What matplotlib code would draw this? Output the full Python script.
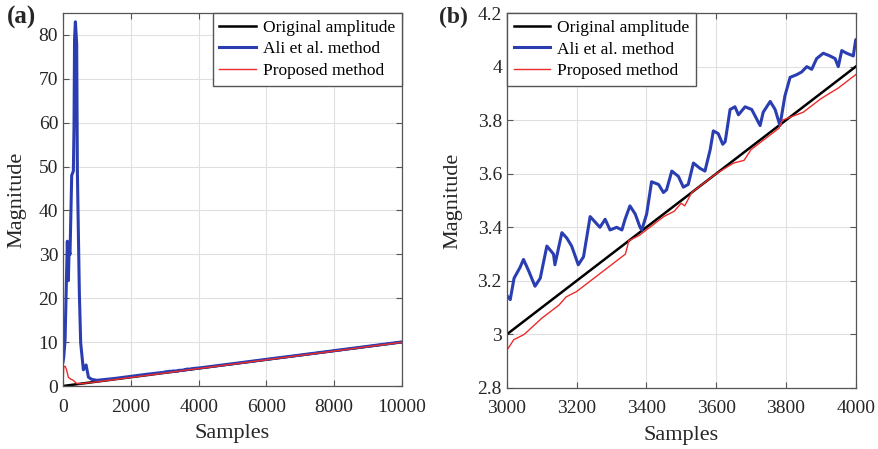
# -*- coding=utf-8 -*-
import numpy as np
import matplotlib.pyplot as plt
from matplotlib.ticker import FormatStrFormatter

"""
幅值估计对比：原始幅值 / Ali et al. 方法 / 所提方法
(a) 全程 0~10000 样本, (b) 3000~4000 局部放大
"""

plt.rcParams['font.family'] = ['Liberation Serif', 'DejaVu Serif']

# 原始幅值 (线性增长)
orig_x = [0, 10000]
orig_y = [0, 10]

# Ali et al. 方法
ali_x = [0, 20, 60, 100, 127, 157, 180, 206, 256, 305, 324, 340, 364, 403, 423,
         482, 521, 600, 680, 750, 850, 1000, 1500, 2000, 2500,
         3000, 3010, 3021, 3038, 3048, 3062, 3081, 3096, 3115, 3134, 3138, 3158,
         3172, 3186, 3205, 3220, 3239, 3253, 3267, 3282, 3296, 3315, 3330, 3339,
         3353, 3368, 3382, 3387, 3401, 3415, 3435, 3449, 3458, 3473, 3492, 3506,
         3520, 3535, 3554, 3568, 3583, 3592, 3606, 3619, 3626, 3640, 3654, 3664,
         3683, 3702, 3726, 3735, 3755, 3769, 3783, 3797, 3812, 3831, 3845, 3860,
         3874, 3888, 3907, 3926, 3941, 3950, 3960, 3974, 3993, 4000,
         5000, 6000, 7000, 8000, 9000, 10000]
ali_y = [5.5, 6.5, 10.5, 24, 33, 24, 31, 30, 48, 49, 59, 79, 83, 78, 49,
         21, 9.8, 3.7, 4.8, 2.0, 1.5, 1.3, 1.7, 2.2, 2.7,
         3.146, 3.13, 3.21, 3.25, 3.28, 3.24, 3.18, 3.21, 3.33, 3.30, 3.26, 3.38,
         3.36, 3.33, 3.26, 3.29, 3.44, 3.42, 3.40, 3.43, 3.39, 3.40, 3.39, 3.43,
         3.48, 3.45, 3.40, 3.39, 3.45, 3.57, 3.56, 3.53, 3.54, 3.61, 3.59, 3.55,
         3.56, 3.64, 3.62, 3.61, 3.69, 3.76, 3.75, 3.71, 3.72, 3.84, 3.85, 3.82,
         3.85, 3.84, 3.78, 3.83, 3.87, 3.84, 3.78, 3.89, 3.96, 3.97, 3.98, 4.00,
         3.99, 4.03, 4.05, 4.04, 4.03, 4.00, 4.06, 4.05, 4.04, 4.10,
         5.08, 6.08, 7.06, 8.06, 9.05, 10.05]

# 所提方法
prop_x = [0, 20, 60, 100, 157, 220, 300, 400, 500, 1000, 2000,
          3000, 3010, 3020, 3050, 3100, 3150, 3170, 3200, 3250, 3300, 3340, 3350,
          3380, 3400, 3450, 3480, 3500, 3510, 3530, 3600, 3650, 3680, 3700, 3750,
          3780, 3790, 3850, 3900, 3950, 4000,
          5000, 6000, 7000, 8000, 9000, 10000]
prop_y = [0, 4.4, 4.5, 3.8, 2.0, 1.6, 1.3, 0.6, 0.5, 0.95, 1.95,
          2.94, 2.96, 2.98, 3.00, 3.06, 3.11, 3.14, 3.16, 3.21, 3.26, 3.30, 3.35,
          3.37, 3.39, 3.44, 3.46, 3.49, 3.48, 3.53, 3.60, 3.64, 3.65, 3.69, 3.74,
          3.77, 3.80, 3.83, 3.88, 3.92, 3.97,
          4.97, 5.97, 6.97, 7.97, 8.97, 9.97]

labels = ['Original amplitude', 'Ali et al. method', 'Proposed method']
blue = '#2a3eb1'
red = '#ee2b2b'
axis_color = '#555555'
text_color = '#262626'

fig = plt.figure(figsize=(8.79, 4.49), dpi=100)
ax1 = fig.add_axes([0.0717, 0.1403, 0.3857, 0.8307])
ax2 = fig.add_axes([0.5765, 0.1359, 0.397, 0.835])


def draw(ax):
    ax.plot(orig_x, orig_y, color='black', lw=1.8, label=labels[0])
    ax.plot(ali_x, ali_y, color=blue, lw=2.2, label=labels[1])
    ax.plot(prop_x, prop_y, color=red, lw=1.0, label=labels[2])
    ax.grid(True, color='#e0e0e0', lw=0.8)
    ax.set_axisbelow(True)
    ax.tick_params(direction='in', length=4, top=True, right=True,
                   labelsize=14, colors=text_color, color=axis_color)
    ax.tick_params(axis='x', pad=9)
    for s in ax.spines.values():
        s.set_color(axis_color)
        s.set_linewidth(0.9)
    ax.set_xlabel('Samples', fontsize=16, color=text_color, labelpad=6)
    ax.set_ylabel('Magnitude', fontsize=16, color=text_color, labelpad=9)


def add_legend(ax, loc):
    leg = ax.legend(loc=loc, borderaxespad=0, fontsize=12.5, fancybox=False,
                    handlelength=2.1, handletextpad=0.4, labelspacing=0.3,
                    framealpha=1)
    leg.get_frame().set_edgecolor(axis_color)


# (a) 全程
draw(ax1)
ax1.set_xlim(0, 10000)
ax1.set_ylim(0, 85)
ax1.set_xticks(np.arange(0, 10001, 2000))
ax1.set_yticks(np.arange(0, 81, 10))
add_legend(ax1, 'upper right')

# (b) 局部放大
draw(ax2)
ax2.set_xlim(3000, 4000)
ax2.set_ylim(2.8, 4.2)
ax2.set_xticks(np.arange(3000, 4001, 200))
ax2.set_yticks(np.arange(2.8, 4.21, 0.2))
ax2.yaxis.set_major_formatter(FormatStrFormatter('%g'))
ax2.yaxis.labelpad = 11
add_legend(ax2, 'upper left')

fig.text(0.008, 0.948, '(a)', fontsize=18, fontweight='bold', color=text_color)
fig.text(0.500, 0.948, '(b)', fontsize=17, fontweight='bold', color=text_color)

fig.savefig('out.png', dpi=100)
